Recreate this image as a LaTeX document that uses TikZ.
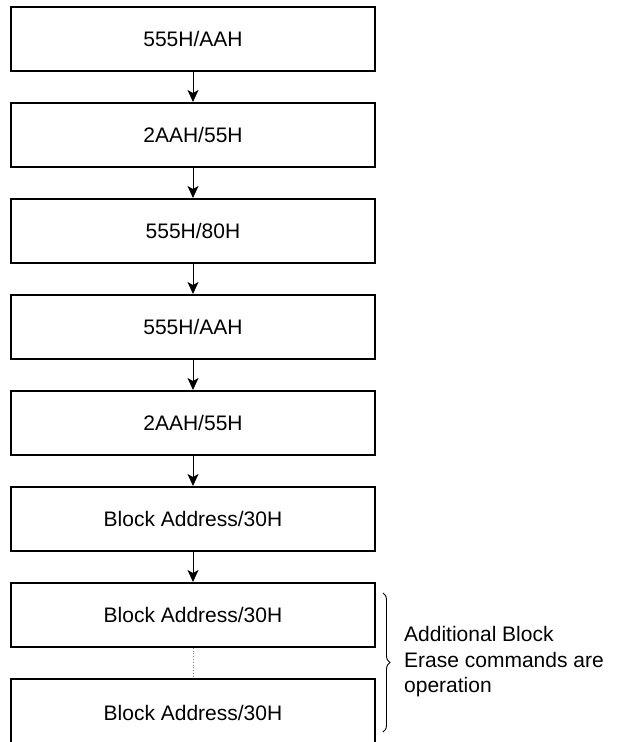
\documentclass[tikz,border=0pt]{standalone}
\usepackage{fontspec}
\setmainfont{Liberation Sans}
\usetikzlibrary{arrows.meta,decorations.pathreplacing}
\begin{document}
\begin{tikzpicture}[x=1pt,y=1pt,
  stepbox/.style={draw=black,line width=1.8pt,minimum width=364pt,minimum height=64pt,inner sep=0pt,
    font=\fontsize{21}{25}\selectfont,anchor=north},
  flow/.style={line width=1pt,-{Stealth[length=12pt,width=11pt,inset=3pt]}},
  dotline/.style={gray,line width=0.8pt,dotted}]
\useasboundingbox (0,0) rectangle (621,-742);
\node[stepbox] (b1) at (193,-6) {555H/AAH};
\node[stepbox] (b2) at (193,-102) {2AAH/55H};
\node[stepbox] (b3) at (193,-198) {555H/80H};
\node[stepbox] (b4) at (193,-294) {555H/AAH};
\node[stepbox] (b5) at (193,-390) {2AAH/55H};
\node[stepbox] (b6) at (193,-486) {Block Address/30H};
\node[stepbox] (b7) at (193,-582) {Block Address/30H};
\node[stepbox,minimum height=70pt] (b8) at (193,-678) {\raisebox{3pt}{Block Address/30H}};
\draw[flow] (b1.south) -- (b2.north);
\draw[flow] (b2.south) -- (b3.north);
\draw[flow] (b3.south) -- (b4.north);
\draw[flow] (b4.south) -- (b5.north);
\draw[flow] (b5.south) -- (b6.north);
\draw[flow] (b6.south) -- (b7.north);
\draw[dotline] (b7.south) -- (b8.north);
\coordinate (bt) at (383,-593);
\coordinate (bb) at (383,-732);
\draw[line width=0.9pt,decorate,decoration={brace,amplitude=7pt}] (bt) -- (bb);
\node[anchor=west,align=left,font=\fontsize{21}{25.5}\selectfont,inner sep=0pt] (note) at (404,-662)
  {Additional Block\\Erase commands are\\operation};
\end{tikzpicture}
\end{document}
